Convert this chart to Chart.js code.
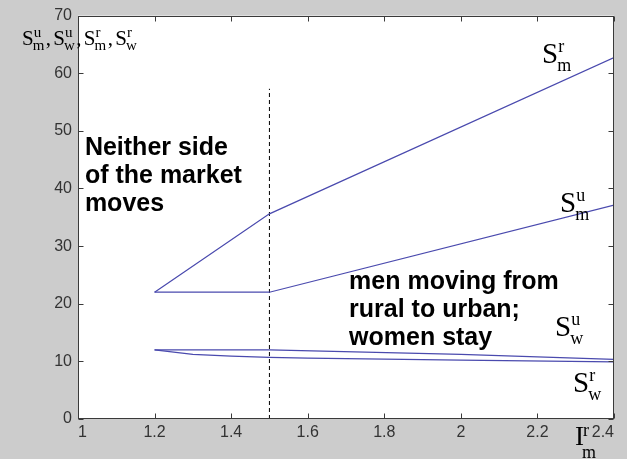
<!DOCTYPE html>
<html><head><meta charset="utf-8">
<script src="https://cdn.jsdelivr.net/npm/chart.js@4/dist/chart.umd.min.js"></script>
<style>html,body{margin:0;padding:0;background:#cccccc;overflow:hidden}#wrap{width:627px;height:459px;position:relative}</style>
</head><body><div id="wrap"><canvas id="c"></canvas></div>
<script>
// ---- data ----
const xTicks = [1, 1.2, 1.4, 1.6, 1.8, 2, 2.2, 2.4];
const yTicks = [0, 10, 20, 30, 40, 50, 60, 70];
const smRx = [1.2, 1.5, 2.4];
const smRy = [22, 35.6, 62.7];
const smUx = [1.2, 1.5, 2.4];
const smUy = [22, 22, 37.1];
const swUx = [1.2, 1.5, 2.0, 2.4];
const swUy = [12, 12, 11.2, 10.35];
const swRx = [1.2, 1.3, 1.4, 1.5, 1.6, 2.0, 2.4];
const swRy = [12, 11.2, 10.9, 10.7, 10.55, 10.2, 9.9];
const divideX = [1.5, 1.5];
const divideY = [0, 57.3];
const noteLeft = ["Neither side", "of the market", "moves"];
const noteRight = ["men moving from", "rural to urban;", "women stay"];

const pts = (xs, ys) => xs.map((x, i) => ({x, y: ys[i]}));
const LINE = '#4a4aae';
const SANS = '"Liberation Sans", Arial, sans-serif';
const SERIF = '"Liberation Serif", "Times New Roman", serif';

function drawMath(ctx, x, y, base, sup, sub, big, small, supDy, subDy, gap) {
  gap = gap || 0;
  ctx.font = big + 'px ' + SERIF;
  ctx.fillText(base, x, y);
  const w = ctx.measureText(base).width + gap;
  ctx.font = small + 'px ' + SERIF;
  let w2 = 0;
  if (sup) { ctx.fillText(sup, x + w, y - supDy); w2 = Math.max(w2, ctx.measureText(sup).width); }
  if (sub) { ctx.fillText(sub, x + w - 1, y + subDy); w2 = Math.max(w2, ctx.measureText(sub).width - 1); }
  return w + w2;
}

const frame = {
  id: 'frame',
  beforeDraw(chart) {
    const {ctx, chartArea: a} = chart;
    ctx.save();
    ctx.fillStyle = '#cccccc';
    ctx.fillRect(0, 0, chart.width, chart.height);
    ctx.fillStyle = '#ffffff';
    ctx.fillRect(a.left, a.top, a.right - a.left, a.bottom - a.top);
    ctx.restore();
  },
  afterDraw(chart) {
    const {ctx, chartArea: a, scales} = chart;
    const xs = scales.x, ys = scales.y;
    ctx.save();
    // box
    ctx.strokeStyle = '#3a3a3a';
    ctx.lineWidth = 1;
    const L = Math.round(a.left) + 0.5, R = Math.round(a.right) - 0.5;
    const T = Math.round(a.top) + 0.5, B = Math.round(a.bottom) - 0.5;
    ctx.strokeRect(L, T, R - L, B - T);
    // inward ticks
    ctx.beginPath();
    xTicks.forEach(v => {
      const p = Math.round(xs.getPixelForValue(v)) + 0.5;
      ctx.moveTo(p, B); ctx.lineTo(p, B - 5);
      ctx.moveTo(p, T); ctx.lineTo(p, T + 5);
    });
    yTicks.forEach(v => {
      const p = Math.round(ys.getPixelForValue(v)) + 0.5;
      ctx.moveTo(L, p); ctx.lineTo(L + 5, p);
      ctx.moveTo(R, p); ctx.lineTo(R - 5, p);
    });
    ctx.stroke();

    // text notes
    ctx.fillStyle = '#000';
    ctx.textBaseline = 'alphabetic';
    ctx.textAlign = 'left';
    ctx.font = 'bold 25px ' + SANS;
    let px = xs.getPixelForValue(1.018), py = ys.getPixelForValue(45.8);
    noteLeft.forEach((t, i) => ctx.fillText(t, px, py + i * 28));
    px = xs.getPixelForValue(1.708); py = ys.getPixelForValue(22.6);
    noteRight.forEach((t, i) => ctx.fillText(t, px, py + i * 28));

    // series labels
    const lab = (x, y, sup, sub) => drawMath(ctx, xs.getPixelForValue(x), ys.getPixelForValue(y), 'S', sup, sub, 29, 18, 11, 8);
    lab(2.212, 61.76, 'r', 'm');
    lab(2.259, 35.86, 'u', 'm');
    lab(2.246, 14.41, 'u', 'w');
    lab(2.293, 4.63, 'r', 'w');

    // y axis title
    let tx = 22;
    const groups = [['u','m'],['u','w'],['r','m'],['r','w']];
    groups.forEach((g, i) => {
      tx += drawMath(ctx, tx, 45, 'S', g[0], g[1], 21, 15, 8, 5);
      if (i < groups.length - 1) {
        ctx.font = '21px ' + SERIF;
        ctx.fillText(',', tx + 1.5, 45);
        tx += 9;
      }
    });
    // x axis title
    drawMath(ctx, 575, 445, 'I', 'r', 'm', 27, 18, 9, 13, -1);
    ctx.restore();
  }
};

const ds = (data, extra) => Object.assign({
  data, showLine: true, pointRadius: 0, borderColor: LINE, borderWidth: 1.2,
  fill: false, tension: 0
}, extra || {});

new Chart(document.getElementById('c'), {
  type: 'scatter',
  data: {
    datasets: [
      ds(pts(smRx, smRy)),
      ds(pts(smUx, smUy)),
      ds(pts(swUx, swUy)),
      ds(pts(swRx, swRy)),
      ds(pts(divideX, divideY), {borderColor: '#000', borderWidth: 1, borderDash: [4, 3]})
    ]
  },
  options: {
    responsive: true,
    maintainAspectRatio: false,
    animation: false,
    layout: {padding: {top: 11, right: 13, left: 0, bottom: 0}},
    plugins: {legend: {display: false}, tooltip: {enabled: false}},
    scales: {
      x: {
        type: 'linear', min: 1, max: 2.4,
        afterBuildTicks: s => { s.ticks = xTicks.map(v => ({value: v})); },
        afterFit: s => { s.height = 40; },
        grid: {display: false, drawTicks: false},
        border: {display: false},
        ticks: {
          align: 'inner', padding: 4, color: '#333333',
          font: {family: SANS, size: 16},
          callback: v => String(Number(v.toFixed(1)))
        }
      },
      y: {
        type: 'linear', min: 0, max: 70,
        afterBuildTicks: s => { s.ticks = yTicks.map(v => ({value: v})); },
        afterFit: s => { s.width = 78; },
        grid: {display: false, drawTicks: false},
        border: {display: false},
        ticks: {
          padding: 6, color: '#333333',
          font: {family: SANS, size: 16},
          callback: v => String(v)
        }
      }
    }
  },
  plugins: [frame]
});
</script>
</body></html>
